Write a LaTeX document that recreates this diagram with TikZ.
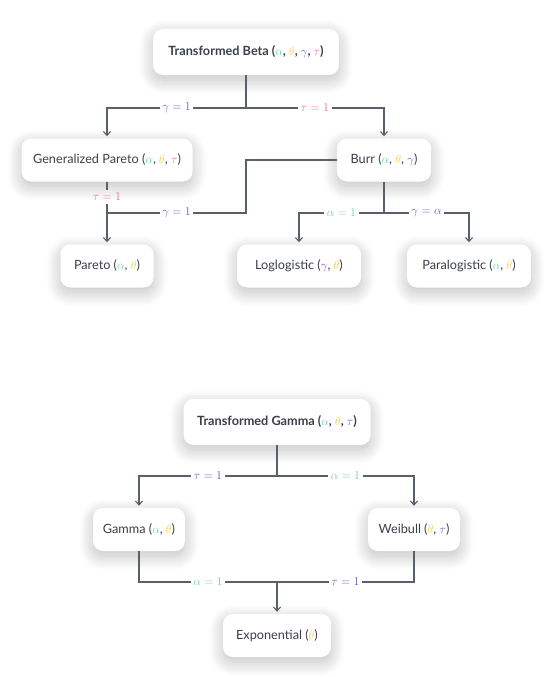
\documentclass[tikz,border=0pt]{standalone}
\usepackage{fontspec}
\setmainfont{Lato}
\usetikzlibrary{arrows.meta,shadows.blur}
\definecolor{cteal}{HTML}{6ECBBF}
\definecolor{cyel}{HTML}{F5CF45}
\definecolor{cpink}{HTML}{E86D97}
\definecolor{cpurp}{HTML}{655BB0}
\definecolor{cline}{HTML}{5A5F6C}
\definecolor{ctext}{HTML}{3A3F4B}
\newcommand\mA{\textcolor{cteal}{$\alpha$}}
\newcommand\mT{\textcolor{cyel}{$\theta$}}
\newcommand\mG{\textcolor{cpurp}{$\gamma$}}
\newcommand\mTp{\textcolor{cpink}{$\tau$}}
\newcommand\mTq{\textcolor{cpurp}{$\tau$}}
\begin{document}
\begin{tikzpicture}[x=1pt,y=-1pt,
  box/.style={rounded corners=10pt, fill=white, text=ctext,
    minimum height=43pt, inner sep=0pt, font=\fontsize{12.7}{14}\selectfont,
    blur shadow={shadow xshift=0pt, shadow yshift=-5pt, shadow blur radius=14pt, shadow blur steps=30, shadow opacity=26}},
  bigbox/.style={box, minimum height=46pt, font=\fontsize{12.7}{14}\selectfont\bfseries},
  conn/.style={draw=cline, line width=1.1pt},
  arr/.style={conn, -{Straight Barb[length=4pt,width=7pt]}, shorten >=2pt},
  lab/.style={fill=white, inner sep=2.5pt, font=\fontsize{11.5}{13}\selectfont},
  labnf/.style={inner sep=2.5pt, font=\fontsize{11.5}{13}\selectfont},
]
\useasboundingbox (0,0) rectangle (559,677);
% top tree
\node[bigbox, minimum width=186pt] (tb) at (246,52) {Transformed Beta (\mA, \mT, \mG, \mTp)};
\node[box, minimum width=171pt] (gp) at (107,160) {Generalized Pareto (\mA, \mT, \mTp)};
\node[box, minimum width=94pt] (burr) at (384,160) {Burr (\mA, \mT, \mG)};
\node[box, minimum width=93pt] (par) at (107,266) {Pareto (\mA, \mT)};
\node[box, minimum width=124pt] (ll) at (299,266) {Loglogistic (\mG, \mT)};
\node[box, minimum width=124pt] (pl) at (469,266) {Paralogistic (\mA, \mT)};
\coordinate (j1) at (246,108);
\coordinate (j2) at (246,213);
\coordinate (j3) at (384,213);
\draw[conn] (tb.south) -- (j1);
\draw[arr] (j1) -| node[lab, pos=0.25, text=cpurp] {$\gamma=1$} (gp.north);
\draw[arr] (j1) -| node[lab, pos=0.25, text=cpink] {$\tau=1$} (burr.north);
\node[labnf, text=cpink] (lt) at (107,197) {$\tau=1$};
\draw[conn] (gp.south) -- (lt.north);
\draw[arr] (lt.south) -- (par.north);
\draw[conn] (burr.west) -| (j2) -- node[lab, text=cpurp] {$\gamma=1$} (j2 -| par.north);
\draw[conn] (burr.south) -- (j3);
\draw[arr] (j3) -| node[lab, pos=0.25, text=cteal] {$\alpha=1$} (ll.north);
\draw[arr] (j3) -| node[lab, pos=0.25, text=cpurp] {$\gamma=\alpha$} (pl.north);
% bottom tree
\node[bigbox, minimum width=187pt] (tg) at (277,422) {Transformed Gamma (\mA, \mT, \mTq)};
\node[box, minimum width=92pt] (gam) at (139,529.5) {Gamma (\mA, \mT)};
\node[box, minimum width=92pt] (wei) at (414,529.5) {Weibull (\mT, \mTq)};
\node[box, minimum width=108pt] (ex) at (277,635.5) {Exponential (\mT)};
\coordinate (j4) at (277,476);
\coordinate (j5) at (277,582);
\draw[conn] (tg.south) -- (j4);
\draw[arr] (j4) -| node[lab, pos=0.25, text=cpurp] {$\tau=1$} (gam.north);
\draw[arr] (j4) -| node[lab, pos=0.25, text=cteal] {$\alpha=1$} (wei.north);
\draw[conn] (gam.south) |- node[lab, pos=0.75, text=cteal] {$\alpha=1$} (j5);
\draw[conn] (wei.south) |- node[lab, pos=0.75, text=cpurp] {$\tau=1$} (j5);
\draw[arr] (j5) -- (ex.north);
\end{tikzpicture}
\end{document}
